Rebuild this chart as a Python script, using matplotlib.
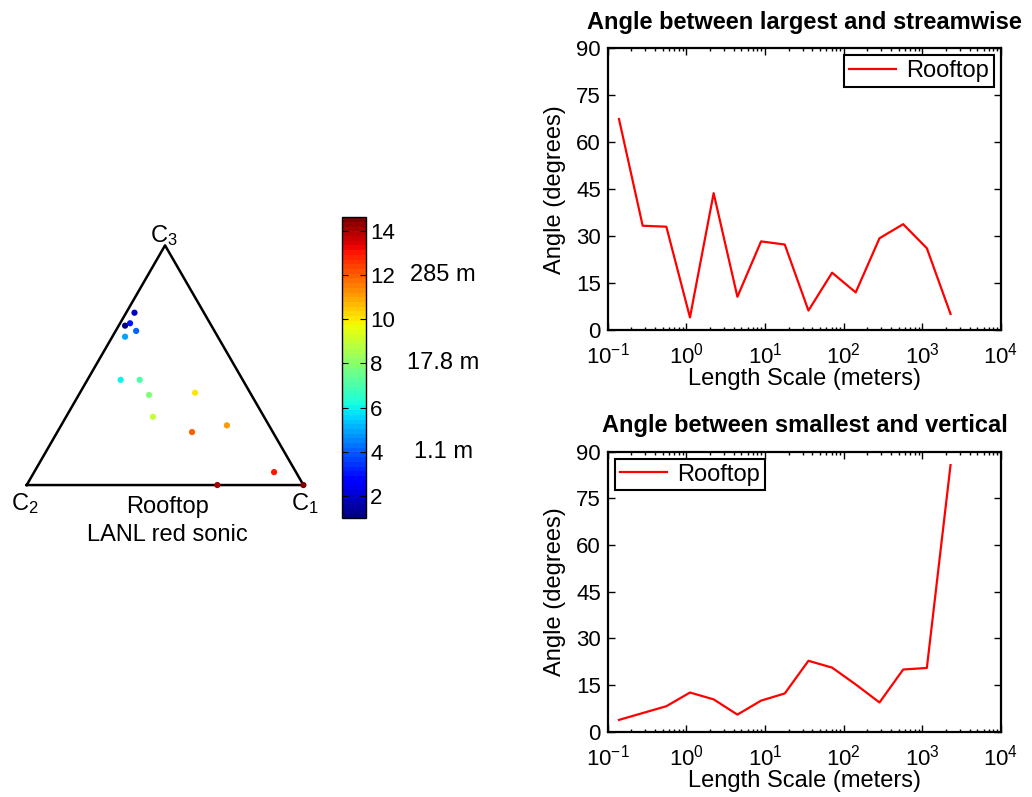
import numpy as np
import matplotlib.pyplot as plt
from matplotlib.cm import ScalarMappable
from matplotlib.colors import Normalize
from matplotlib.ticker import LogLocator, NullFormatter
import matplotlib.transforms as mtransforms

plt.rcParams['font.family'] = 'Liberation Sans'
plt.rcParams['mathtext.fontset'] = 'custom'
plt.rcParams['mathtext.rm'] = 'Liberation Sans'
plt.rcParams['mathtext.default'] = 'regular'

# length scales (m), one per averaging scale index
scales = [0.139, 0.278, 0.556, 1.11, 2.22, 4.45, 8.9, 17.8,
          35.6, 71.2, 142, 285, 570, 1140, 2280]
scale_index = list(range(1, 16))

# barycentric anisotropy coordinates for each scale
c1 = [0.023, 0.030, 0.036, 0.074, 0.046, 0.120, 0.189, 0.254,
      0.314, 0.416, 0.599, 0.487, 0.867, 0.689, 1.000]
c3 = [0.665, 0.719, 0.675, 0.643, 0.619, 0.439, 0.439, 0.376,
      0.285, 0.385, 0.249, 0.221, 0.054, 0.000, 0.000]

angle_stream = [67.4, 33.3, 33.0, 4.0, 43.7, 10.6, 28.3, 27.3,
                6.2, 18.3, 12.0, 29.3, 33.8, 26.1, 5.1]
angle_vert = [3.8, 6.0, 8.2, 12.6, 10.4, 5.5, 10.0, 12.3,
              22.8, 20.6, 15.2, 9.4, 20.0, 20.5, 85.7]

cbar_ticks = [2, 4, 6, 8, 10, 12, 14]
cbar_notes = {12: '285 m', 8: '17.8 m', 4: '1.1 m'}
yticks = [0, 15, 30, 45, 60, 75, 90]
xticks = [1e-1, 1e0, 1e1, 1e2, 1e3, 1e4]

FS = 17    # labels, titles, annotations
TFS = 16   # tick labels
fig = plt.figure(figsize=(10.32, 7.97), dpi=100)

# ---- triangle (barycentric map) ----
h = np.sqrt(3) / 2
tax = fig.add_axes([0.00174, 0.3046, 0.3164, 0.4167])
tax.set_xlim(-0.09, 1.09)
tax.set_ylim(-0.25, 0.95)
tax.axis('off')
tax.plot([0, 1, 0.5, 0], [0, 0, h, 0], color='k', lw=1.8, clip_on=False)

cmap = plt.get_cmap('jet', 64)
norm = Normalize(vmin=1, vmax=14.6)
px = np.array(c1) + np.array(c3) / 2
py = np.array(c3) * h
tax.scatter(px, py, c=scale_index, cmap=cmap, norm=norm, s=20,
            edgecolors='none', zorder=3, clip_on=False)

tax.text(0.494, 0.903, 'C$_3$', ha='center', va='center', fontsize=FS)
tax.text(-0.006, -0.066, 'C$_2$', ha='center', va='center', fontsize=FS)
tax.text(1.006, -0.066, 'C$_1$', ha='center', va='center', fontsize=FS)
tax.text(0.51, -0.078, 'Rooftop', ha='center', va='center', fontsize=FS)
tax.text(0.51, -0.181, 'LANL red sonic', ha='center', va='center', fontsize=FS)

# ---- colour bar ----
cax = fig.add_axes([0.3317, 0.3497, 0.0230, 0.3777])
cb = fig.colorbar(ScalarMappable(norm=norm, cmap=cmap), cax=cax, ticks=cbar_ticks)
cb.outline.set_linewidth(1.0)
cax.tick_params(direction='in', left=True, right=True, length=4,
                labelsize=TFS, pad=3)
cax.minorticks_off()
trans = mtransforms.blended_transform_factory(cax.transAxes, cax.transData)
for val, txt in cbar_notes.items():
    cax.text(4.25, val, txt, transform=trans, ha='center', va='center',
             fontsize=FS)


def angle_panel(ax, yvals, title, loc):
    ax.semilogx(scales, yvals, color='red', lw=1.6, label='Rooftop')
    ax.set_xlim(1e-1, 1e4)
    ax.set_ylim(0, 90)
    ax.set_xticks(xticks)
    ax.set_yticks(yticks)
    ax.xaxis.set_minor_locator(LogLocator(base=10, subs=np.arange(2, 10)))
    ax.xaxis.set_minor_formatter(NullFormatter())
    ax.tick_params(which='both', direction='in', top=True, right=True,
                   labelsize=TFS, width=1)
    ax.tick_params(axis='x', which='both', pad=9)
    ax.tick_params(axis='y', pad=5)
    ax.tick_params(which='major', length=5)
    ax.tick_params(which='minor', length=2.5)
    for sp in ax.spines.values():
        sp.set_linewidth(1.6)
    ax.set_xlabel('Length Scale (meters)', fontsize=FS, labelpad=0)
    ax.set_ylabel('Angle (degrees)', fontsize=FS, labelpad=7)
    ax.set_title(title, fontsize=FS, fontweight='bold', pad=14)
    leg = ax.legend(loc=loc, fontsize=FS, fancybox=False, framealpha=1,
                    edgecolor='k', borderpad=0.2, handlelength=2.0,
                    handletextpad=0.45, borderaxespad=0.3)
    leg.get_frame().set_linewidth(1.5)


ax1 = fig.add_axes([0.5889, 0.5860, 0.3811, 0.3534])
angle_panel(ax1, angle_stream, 'Angle between largest and streamwise', 'upper right')

ax2 = fig.add_axes([0.5889, 0.0819, 0.3811, 0.3513])
angle_panel(ax2, angle_vert, 'Angle between smallest and vertical', 'upper left')

fig.savefig('out.png', dpi=100)
